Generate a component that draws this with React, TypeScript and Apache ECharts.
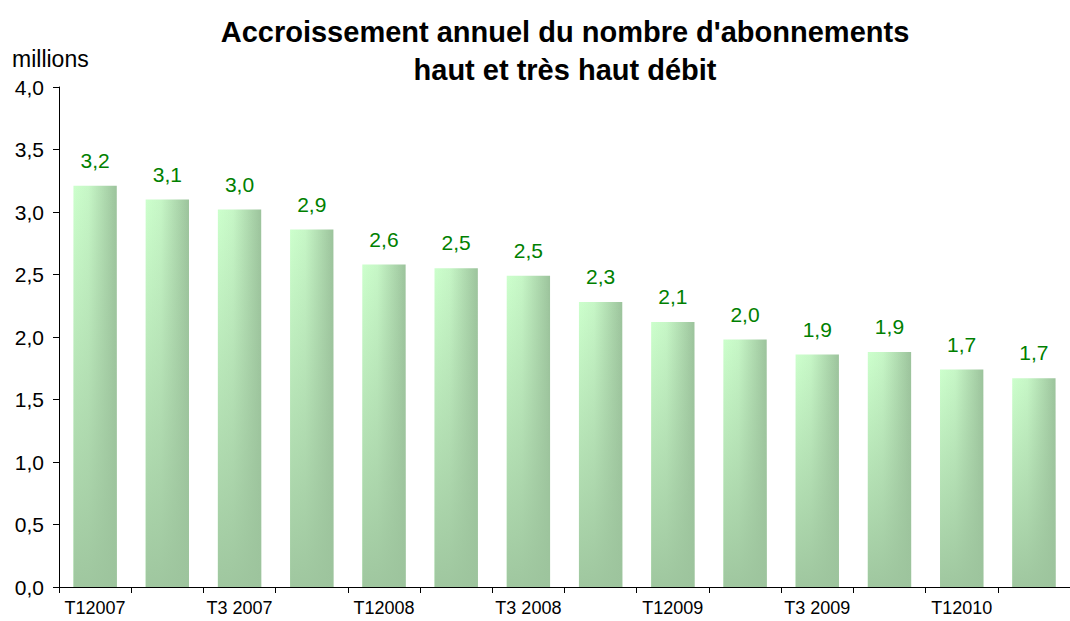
import React, { useEffect, useRef } from "react";
import * as echarts from "echarts";

const categories = [
  "T12007", "T2 2007", "T3 2007", "T4 2007",
  "T12008", "T2 2008", "T3 2008", "T4 2008",
  "T12009", "T2 2009", "T3 2009", "T4 2009",
  "T12010", "T2 2010",
];
const values = [3.21, 3.1, 3.02, 2.86, 2.58, 2.55, 2.49, 2.28, 2.12, 1.98, 1.86, 1.88, 1.74, 1.67];
const yTicks = { min: 0, max: 4, interval: 0.5 };
const titleLines = ["Accroissement annuel du nombre d'abonnements", "haut et très haut débit"];
const unitLabel = "millions";

const FONT = "Arial, 'Liberation Sans', sans-serif";
const fr = (v: number) => v.toFixed(1).replace(".", ",");

export default function App() {
  const ref = useRef<HTMLDivElement>(null);
  useEffect(() => {
    const chart = echarts.init(ref.current!, undefined, { renderer: "svg" });
    chart.setOption({
      animation: false,
      backgroundColor: "#ffffff",
      title: {
        text: titleLines.join("\n"),
        left: 560,
        textAlign: "center",
        top: 8,
        textStyle: { fontFamily: FONT, fontSize: 29, fontWeight: "bold", color: "#000", lineHeight: 38 },
      },
      graphic: [
        {
          type: "text",
          left: 12,
          top: 47,
          style: { text: unitLabel, fontFamily: FONT, fontSize: 23, fill: "#000" },
        },
      ],
      grid: { left: 59, top: 87, bottom: 34, right: -8, containLabel: false },
      xAxis: {
        type: "category",
        data: categories,
        axisLine: { lineStyle: { color: "#000", width: 1 } },
        axisTick: { show: true, interval: 0, length: 6, lineStyle: { color: "#000" } },
        axisLabel: { interval: 1, color: "#000", fontFamily: FONT, fontSize: 18, margin: 12 },
        splitLine: { show: false },
      },
      yAxis: {
        type: "value",
        min: yTicks.min,
        max: yTicks.max,
        interval: yTicks.interval,
        axisLine: { show: true, lineStyle: { color: "#000", width: 1 } },
        axisTick: { show: true, length: 6, lineStyle: { color: "#000" } },
        axisLabel: { color: "#000", fontFamily: FONT, fontSize: 21, margin: 15, formatter: (v: number) => fr(v) },
        splitLine: { show: false },
      },
      series: [
        {
          type: "bar",
          data: values,
          barWidth: "60%",
          itemStyle: {
            color: new echarts.graphic.LinearGradient(0, 0, 1, 0, [
              { offset: 0, color: "#ccffcc" },
              { offset: 0.35, color: "#c6f6c6" },
              { offset: 1, color: "#9cc39c" },
            ]),
          },
          label: {
            show: true,
            position: "top",
            distance: 15,
            color: "#008000",
            fontFamily: FONT,
            fontSize: 21,
            formatter: (p: any) => fr(p.value),
          },
          z: 2,
        },
        {
          type: "bar",
          data: values,
          barWidth: "60%",
          barGap: "-100%",
          silent: true,
          itemStyle: {
            color: new echarts.graphic.LinearGradient(0, 0, 0, 1, [
              { offset: 0, color: "rgba(157,196,157,0)" },
              { offset: 1, color: "rgba(157,196,157,0.95)" },
            ]),
          },
          z: 3,
        },
      ],
    });
    return () => chart.dispose();
  }, []);
  return <div ref={ref} style={{ position: "fixed", left: 0, top: 0, width: 1070, height: 621 }} />;
}
